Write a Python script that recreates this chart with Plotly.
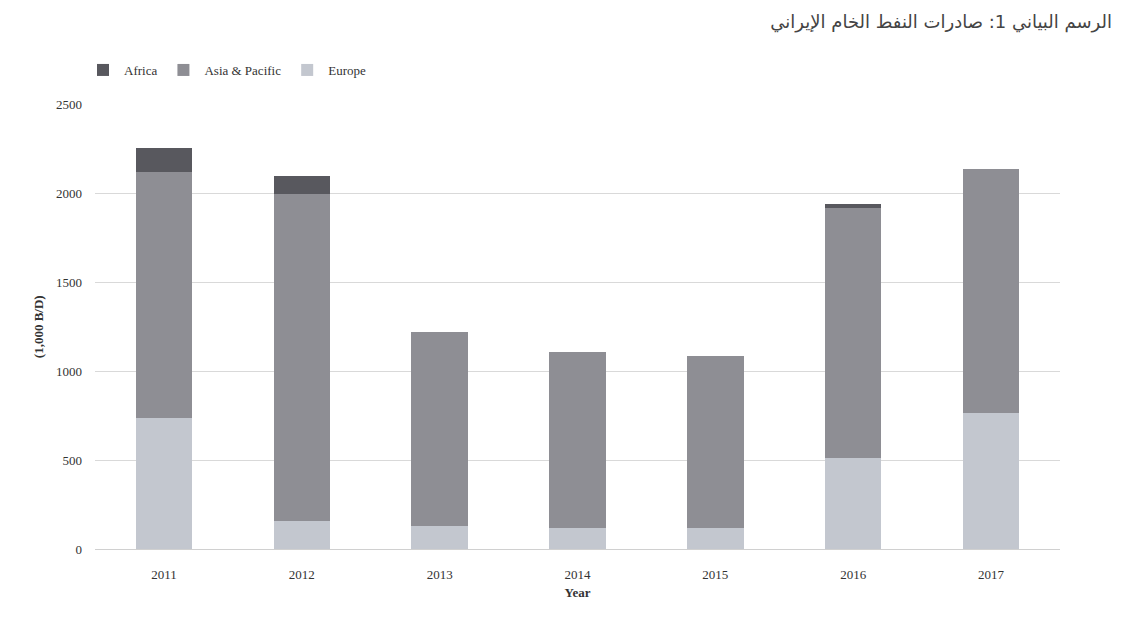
import plotly.graph_objects as go

# Iranian crude oil exports by destination region (thousand barrels per day)
years = ["2011", "2012", "2013", "2014", "2015", "2016", "2017"]
europe = [735, 160, 130, 120, 120, 510, 765]
asia_pacific = [1385, 1835, 1090, 990, 965, 1410, 1370]
africa = [135, 100, 0, 0, 0, 20, 0]

title_text = "الرسم البياني 1: صادرات النفط الخام الإيراني"
y_title = "(1,000 B/D)"
x_title = "Year"
y_ticks = [0, 500, 1000, 1500, 2000, 2500]

serif = "Liberation Serif, DejaVu Serif, serif"
colors = {"Africa": "#58585e", "Asia & Pacific": "#8e8e94", "Europe": "#c3c7cf"}

fig = go.Figure()
# Stack order bottom to top: Europe, Asia & Pacific, Africa
fig.add_trace(go.Bar(x=years, y=europe, name="Europe",
                     marker=dict(color=colors["Europe"], line=dict(width=0)),
                     legendrank=3))
fig.add_trace(go.Bar(x=years, y=asia_pacific, name="Asia & Pacific",
                     marker=dict(color=colors["Asia & Pacific"], line=dict(width=0)),
                     legendrank=2))
fig.add_trace(go.Bar(x=years, y=africa, name="Africa",
                     marker=dict(color=colors["Africa"], line=dict(width=0)),
                     legendrank=1))

fig.update_layout(
    width=1129, height=617,
    barmode="stack",
    bargap=0.59,
    paper_bgcolor="white",
    plot_bgcolor="white",
    margin=dict(l=95, r=69, t=101, b=68),
    font=dict(family=serif, size=13, color="#333333"),
    title=dict(
        text=title_text,
        font=dict(family="DejaVu Sans, Noto Sans, sans-serif", size=18, color="#444444"),
        xref="container", yref="container",
        x=1112 / 1129, xanchor="right",
        y=1 - 22 / 617, yanchor="middle",
    ),
    legend=dict(
        orientation="h",
        xref="container", yref="container",
        x=82 / 1129, xanchor="left",
        y=1 - 70 / 617, yanchor="middle",
        font=dict(family=serif, size=13, color="#333333"),
        traceorder="normal",
        itemwidth=32,
        bgcolor="rgba(0,0,0,0)",
    ),
    xaxis=dict(
        type="category",
        showgrid=False,
        showline=False,
        ticks="",
        ticklabelstandoff=16,
        tickfont=dict(family=serif, size=13, color="#333333"),
        title=dict(text="<b>" + x_title + "</b>",
                   font=dict(family=serif, size=13, color="#333333"),
                   standoff=6),
    ),
    yaxis=dict(
        range=[0, 2500],
        tickvals=y_ticks,
        showgrid=True,
        gridcolor="#d9d9d9",
        gridwidth=1,
        zeroline=True,
        zerolinecolor="#d0d0d0",
        zerolinewidth=1,
        showline=False,
        ticks="",
        ticklen=0,
        ticklabelstandoff=12,
        tickfont=dict(family=serif, size=13, color="#333333"),
        title=dict(text="<b>" + y_title + "</b>",
                   font=dict(family=serif, size=13, color="#333333"),
                   standoff=9),
    ),
)

fig.write_html("out.html")
